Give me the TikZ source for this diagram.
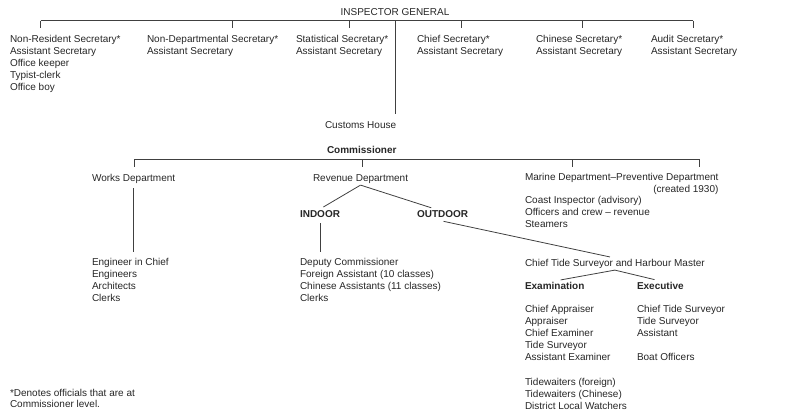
\documentclass[tikz,border=0pt]{standalone}
\usepackage{fontspec}
\setmainfont{Liberation Sans}
\usetikzlibrary{calc}
\tikzset{%
  lbl/.style={inner sep=0pt,outer sep=0pt,anchor=north west,align=left},
  link/.style={draw=black!75,line width=0.8pt}%
}

\begin{document}
\begin{tikzpicture}[
    x=1pt, y=-1pt,
    font=\fontsize{10}{12.1}\selectfont,
    text=black!85,
    lbl/.style={
        inner sep=0pt,
        outer sep=0pt,
        anchor=north west,
        align=left,
        execute at begin node=\strut
    },
    head/.style={lbl, font=\fontsize{10}{12.1}\selectfont\bfseries},
    link/.style={draw=black!75, line width=0.8pt}
]
\useasboundingbox (0,0) rectangle (799,418);

% Inspector General and the secretaries
\node[lbl, anchor=north] (ig) at (395,7) {INSPECTOR GENERAL};
\node[lbl] (nonres) at (10,35) {Non-Resident Secretary*\\Assistant Secretary\\Office keeper\\Typist-clerk\\Office boy};
\node[lbl] (nondep) at (147,35) {Non-Departmental Secretary*\\Assistant Secretary};
\node[lbl] (stat)   at (296,35) {Statistical Secretary*\\Assistant Secretary};
\node[lbl] (chief)  at (417,35) {Chief Secretary*\\Assistant Secretary};
\node[lbl] (chin)   at (536,35) {Chinese Secretary*\\Assistant Secretary};
\node[lbl] (audit)  at (651,35) {Audit Secretary*\\Assistant Secretary};

% Customs House
\node[lbl] (house) at (325,120) {Customs House};
\node[head] (comm) at (327,145) {Commissioner};

% Departments
\node[lbl] (works) at (92,173) {Works Department};
\node[lbl] (rev)   at (313,173) {Revenue Department};
\node[lbl, align=right] (marine) at (525,173) {Marine Department--Preventive Department\\(created 1930)};
\node[lbl] (coast) at (525,196) {Coast Inspector (advisory)\\Officers and crew -- revenue\\Steamers};

\node[head] (indoor)  at (300,209) {INDOOR};
\node[head] (outdoor) at (417,209) {OUTDOOR};

% Staff lists
\node[lbl] (eng)    at (92,258) {Engineer in Chief\\Engineers\\Architects\\Clerks};
\node[lbl] (deputy) at (300,258) {Deputy Commissioner\\Foreign Assistant (10 classes)\\Chinese Assistants (11 classes)\\Clerks};
\node[lbl] (tide)   at (525,258) {Chief Tide Surveyor and Harbour Master};
\node[head] (exam)  at (525,281) {Examination};
\node[head] (exec)  at (637,281) {Executive};
\node[lbl] (examlist) at (525,305) {Chief Appraiser\\Appraiser\\Chief Examiner\\Tide Surveyor\\Assistant Examiner};
\node[lbl] (execlist) at (637,305) {Chief Tide Surveyor\\Tide Surveyor\\Assistant\\[12.1pt]Boat Officers};
\node[lbl] (waiters)  at (525,378) {Tidewaiters (foreign)\\Tidewaiters (Chinese)\\District Local Watchers};

% Footnote
\node[lbl, font=\fontsize{10}{11.2}\selectfont] (note) at (10,389) {*Denotes officials that are at\\Commissioner level.};

% Top bar
\coordinate (tb1) at (40.5,20.5);
\coordinate (tb2) at (232,20.5);
\coordinate (tb3) at (349,20.5);
\coordinate (tb4) at (461,20.5);
\coordinate (tb5) at (582,20.5);
\coordinate (tb6) at (693,20.5);
\draw[link] (tb1) -- (tb6);
\foreach \t in {1,...,6}
    \draw[link] (tb\t) -- ++(0,7.5);
\draw[link, shorten >=6pt] (ig |- tb1) -- (ig |- house.north);

% Commissioner bar
\coordinate (cb1) at (134,159);
\coordinate (cb2) at (362,159);
\coordinate (cb3) at (572,159);
\coordinate (cb4) at (699,159);
\draw[link] (cb1) -- (cb4);
\foreach \t in {1,...,4}
    \draw[link] (cb\t) -- ++(0,8);

% Connections
\draw[link, shorten <=3pt, shorten >=6pt] (works.south) -- (works.south |- eng.north);
\draw[link, shorten >=4pt] (rev.south) -- (indoor.north);
\draw[link, shorten >=4pt] (rev.south) -- ([xshift=-7.5pt]outdoor.north);
\draw[link, shorten <=2pt, shorten >=6pt] (indoor.south) -- (indoor.south |- deputy.north);
\draw[link, shorten <=1pt, shorten >=5pt] (outdoor.south) -- (tide.north);
\draw[link, shorten >=6pt] (tide.south) -- (exam.north);
\draw[link, shorten >=6pt] (tide.south) -- (exec.north);

\end{tikzpicture}
\end{document}
